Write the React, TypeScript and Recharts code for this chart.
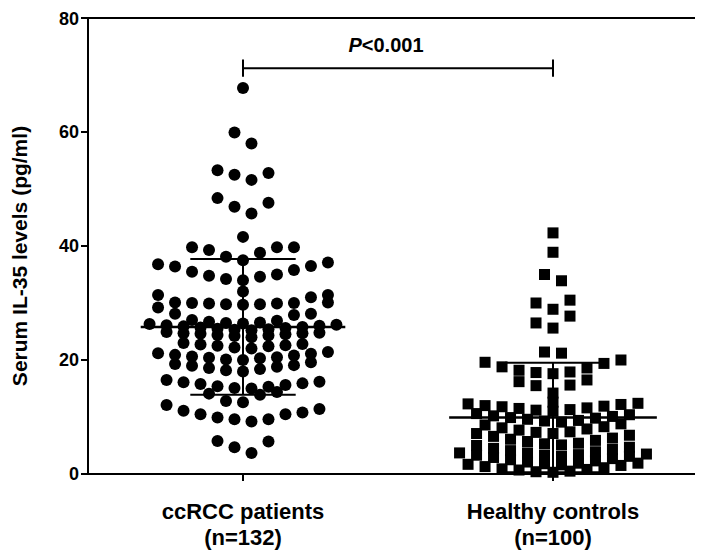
import React from "react";
import { ScatterChart, Scatter, XAxis, YAxis, ReferenceLine } from "recharts";

const categories = ["ccRCC patients", "Healthy controls"];
const groupSizes = ["(n=132)", "(n=100)"];
const yTicks = [0, 20, 40, 60, 80];

// serum IL-35 (pg/ml); one inner array per swarm row
const ccrccRows: number[][] = [
  [67.7],
  [59.9, 58.0],
  [53.3, 52.8, 52.5, 51.6],
  [48.4, 47.6, 46.9, 45.7],
  [41.6],
  [39.8, 39.8, 39.8, 39.3, 38.8, 38.1, 37.5],
  [37.1, 36.8, 36.5, 36.4, 35.8, 35.5, 35.0, 34.8, 34.6, 34.2, 34.0],
  [32.0],
  [31.4, 31.4, 31.0, 30.1, 30.0, 30.0, 29.9, 29.9, 29.8, 29.8, 29.7],
  [30.1, 29.2, 28.1, 28.1, 27.9, 27.0, 26.9, 26.7, 26.6, 26.5, 26.4],
  [26.3, 26.2, 26.1, 26.0, 25.9, 25.8, 25.7, 25.6, 25.5, 25.4, 25.3, 25.2],
  [24.9, 24.8, 24.7, 24.7, 24.6, 24.5, 24.4, 24.3, 24.2, 24.0],
  [23.0, 22.8, 22.7, 22.6, 22.5, 22.4, 22.2, 22.0],
  [21.4, 21.2, 21.1, 20.9, 20.8, 20.6, 20.5, 20.4, 20.3, 20.1, 20.0],
  [19.6, 19.3, 19.1, 19.0, 18.8, 18.6, 18.4, 18.2, 18.0],
  [16.5, 16.2, 16.1, 15.9, 15.8, 15.6, 15.4, 15.3, 15.1, 15.0],
  [14.4, 14.1, 13.9, 12.8, 12.6],
  [12.1, 11.4, 11.1, 10.8, 10.5, 10.5, 9.9, 9.6, 9.6, 9.2],
  [5.8, 5.7, 4.7, 3.7],
];

const healthyRows: number[][] = [
  [42.3],
  [38.9],
  [35.0, 33.9],
  [30.5, 30.0, 28.9],
  [27.7, 26.5, 25.6],
  [21.4, 21.2],
  [20.0, 19.6, 19.4, 18.8, 18.6, 18.2, 17.9, 17.8, 17.6],
  [16.5, 16.2, 15.6, 15.5, 14.2],
  [12.6],
  [11.0, 11.3, 11.2, 11.6, 11.5, 11.9, 11.8, 12.2, 12.0, 12.4, 12.3],
  [9.1, 9.4, 9.3, 9.8, 9.6, 10.1, 9.9, 10.4, 10.2, 10.6],
  [7.1, 7.4, 7.3, 7.9, 7.7, 8.3, 8.1, 8.8, 8.6],
  [5.1, 5.4, 5.3, 5.9, 5.7, 6.3, 6.1, 6.8, 6.6, 7.1],
  [3.1, 3.3, 3.4, 3.9, 3.7, 4.3, 4.1, 4.7, 4.5, 5.0],
  [1.6, 1.9, 1.8, 2.3, 2.1, 2.7, 2.5, 3.1, 2.9, 3.5, 3.3, 3.7],
  [0.3, 0.5, 0.4, 0.8, 0.7, 1.1, 0.9, 1.5, 1.3, 1.9, 1.7],
];

// mean and SD as drawn by the error bars
const ccrccMeanSd = [25.8, 11.9];
const healthyMeanSd = [9.9, 9.6];

const pValueText = "<0.001";
const bracketY = 71.2;

const COL = 0.0548; // swarm column step (x units)

// lowest value of a row sits in the middle, the rest alternate outwards
function swarmRows(rows: number[][], center: number) {
  return rows.flatMap((row) => {
    const sorted = [...row].sort((a, b) => a - b);
    const offs = sorted.map((_, i) =>
      i === 0 ? 0 : i % 2 ? -Math.ceil(i / 2) : i / 2
    );
    const shift = -offs.reduce((s, o) => s + o, 0) / offs.length;
    return sorted.map((v, i) => ({ x: center + (offs[i] + shift) * COL, y: v }));
  });
}

const ccrccPoints = swarmRows(ccrccRows, 1);
const healthyPoints = swarmRows(healthyRows, 2);

const FONT = "'Liberation Sans', Arial, sans-serif";

const Dot = (p: any) => <circle cx={p.cx} cy={p.cy} r={6} fill="#000" />;
const Square = (p: any) => (
  <rect x={p.cx - 5.5} y={p.cy - 5.5} width={11} height={11} fill="#000" />
);

const CategoryTick = (p: any) => {
  const i = Math.round(p.payload.value) - 1;
  return (
    <g fontFamily={FONT} fontWeight="bold" fontSize={22} fill="#000">
      <text x={p.x} y={p.y + 36} textAnchor="middle">
        {categories[i]}
      </text>
      <text x={p.x} y={p.y + 62} textAnchor="middle">
        {groupSizes[i]}
      </text>
    </g>
  );
};

const YLabel = (p: any) => {
  const vb = p.viewBox;
  const cx = vb.x + 19;
  const cy = vb.y + vb.height / 2 + 10;
  return (
    <text
      x={cx}
      y={cy}
      transform={`rotate(-90, ${cx}, ${cy})`}
      textAnchor="middle"
      fontFamily={FONT}
      fontWeight="bold"
      fontSize={21}
      fill="#000"
    >
      Serum IL-35 levels (pg/ml)
    </text>
  );
};

const PLabel = (p: any) => {
  const vb = p.viewBox;
  return (
    <text
      x={vb.x + vb.width / 2 - 12}
      y={vb.y - 16}
      textAnchor="middle"
      fontFamily={FONT}
      fontWeight="bold"
      fontSize={20}
      fill="#000"
    >
      <tspan fontStyle="italic">P</tspan>
      <tspan>{pValueText}</tspan>
    </text>
  );
};

function statLines(center: number, ms: number[], meanHalf: number, sdHalf: number) {
  const [m, sd] = ms;
  const lo = Math.max(m - sd, 0);
  return [
    <ReferenceLine
      key={`m${center}`}
      segment={[{ x: center - meanHalf, y: m }, { x: center + meanHalf, y: m }]}
      stroke="#000"
      strokeWidth={2.5}
    />,
    <ReferenceLine
      key={`u${center}`}
      segment={[{ x: center - sdHalf, y: m + sd }, { x: center + sdHalf, y: m + sd }]}
      stroke="#000"
      strokeWidth={2}
    />,
    <ReferenceLine
      key={`l${center}`}
      segment={[{ x: center - sdHalf, y: lo }, { x: center + sdHalf, y: lo }]}
      stroke="#000"
      strokeWidth={2}
    />,
    <ReferenceLine
      key={`v${center}`}
      segment={[{ x: center, y: lo }, { x: center, y: m + sd }]}
      stroke="#000"
      strokeWidth={2}
    />,
  ];
}

export default function App() {
  return (
    <div style={{ width: 695, height: 544, overflow: "hidden" }}>
      <ScatterChart
        width={700}
        height={544}
        margin={{ top: 10, right: 0, bottom: 0, left: 0 }}
      >
        <XAxis
          type="number"
          dataKey="x"
          domain={[0.5, 2.5]}
          ticks={[1, 2]}
          allowDataOverflow
          tick={<CategoryTick />}
          tickSize={7}
          tickMargin={2}
          height={78}
          axisLine={{ stroke: "#000", strokeWidth: 2 }}
          tickLine={{ stroke: "#000", strokeWidth: 2 }}
        />
        <YAxis
          type="number"
          dataKey="y"
          domain={[0, 80]}
          ticks={yTicks}
          width={80}
          tickSize={7}
          tickMargin={2}
          tick={{ fill: "#000", fontSize: 18, fontWeight: "bold", fontFamily: FONT }}
          axisLine={{ stroke: "#000", strokeWidth: 2 }}
          tickLine={{ stroke: "#000", strokeWidth: 2 }}
          label={(p: any) => <YLabel {...p} />}
        />
        <ReferenceLine y={80} stroke="#000" strokeWidth={2} />
        {statLines(1, ccrccMeanSd, 0.33, 0.17)}
        {statLines(2, healthyMeanSd, 0.335, 0.155)}
        <ReferenceLine
          segment={[{ x: 1, y: bracketY }, { x: 2, y: bracketY }]}
          stroke="#000"
          strokeWidth={2}
          label={(p: any) => <PLabel {...p} />}
        />
        <ReferenceLine
          segment={[{ x: 1, y: bracketY - 1.5 }, { x: 1, y: bracketY + 1.5 }]}
          stroke="#000"
          strokeWidth={2}
        />
        <ReferenceLine
          segment={[{ x: 2, y: bracketY - 1.5 }, { x: 2, y: bracketY + 1.5 }]}
          stroke="#000"
          strokeWidth={2}
        />
        <Scatter data={ccrccPoints} shape={Dot} isAnimationActive={false} />
        <Scatter data={healthyPoints} shape={Square} isAnimationActive={false} />
      </ScatterChart>
    </div>
  );
}
